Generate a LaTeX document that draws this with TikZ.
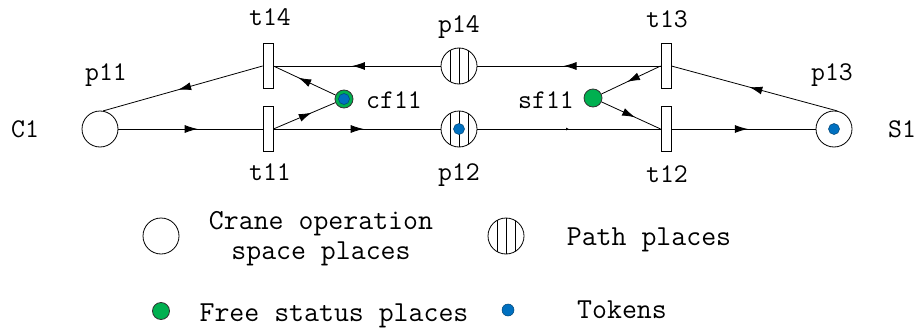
\documentclass[tikz,border=0pt]{standalone}
\usetikzlibrary{arrows.meta,decorations.markings}
\definecolor{pgreen}{RGB}{0,176,80}
\definecolor{pblue}{RGB}{0,112,192}
\begin{document}
\begin{tikzpicture}[x=1pt,y=-1pt,
  place/.style={circle,draw,fill=white,minimum size=36pt,inner sep=0pt,line width=0.8pt},
  pathplace/.style={place,path picture={
      \draw[line width=0.8pt] ([xshift=-9pt]path picture bounding box.north) -- ([xshift=-9pt]path picture bounding box.south);
      \draw[line width=0.8pt] (path picture bounding box.north) -- (path picture bounding box.south);
      \draw[line width=0.8pt] ([xshift=9pt]path picture bounding box.north) -- ([xshift=9pt]path picture bounding box.south);}},
  trans/.style={rectangle,draw,fill=white,minimum width=10pt,minimum height=45pt,inner sep=0pt,line width=0.8pt},
  freeplace/.style={circle,draw=black!80,fill=pgreen,minimum size=18pt,inner sep=0pt,line width=0.8pt},
  tokendot/.style={circle,draw=pblue!60!black,fill=pblue,minimum size=11pt,inner sep=0pt,line width=0.5pt},
  arc/.style={draw,line width=0.8pt},
  midarrow/.style={postaction={decorate},decoration={markings,
      mark=at position #1 with {\arrow{Latex[length=13pt,width=8pt]}}}},
  tinyarrow/.style={postaction={decorate},decoration={markings,
      mark=at position #1 with {\arrow{Latex[length=3pt,width=3pt]}}}},
  lbl/.style={font=\fontsize{27}{30}\selectfont\ttfamily,anchor=base,inner sep=0pt},
  legtext/.style={font=\fontsize{29}{30}\selectfont\ttfamily,inner sep=0pt}]
\useasboundingbox (0,0) rectangle (920,329);
% places and transitions
\node[place] (p11) at (100,129) {};
\node[trans] (t14) at (268,66) {};
\node[trans] (t11) at (268,129) {};
\node[freeplace] (cf11) at (344,99) {};
\node[tokendot] (cf11tok) at (344,99) {};
\node[pathplace] (p14) at (459,66) {};
\node[pathplace] (p12) at (459,129) {};
\node[tokendot] (p12tok) at (459,129) {};
\node[freeplace] (sf11) at (593,98) {};
\node[trans] (t13) at (666,66) {};
\node[trans] (t12) at (666,129) {};
\node[place] (p13) at (834,129) {};
\node[tokendot] (p13tok) at (834,129) {};
% labels
\node[lbl] (lC1) at (25,137) {C1};
\node[lbl] (lS1) at (902,137) {S1};
\node[lbl] (lp11) at (106,80) {p11};
\node[lbl] (lt14) at (270,26) {t14};
\node[lbl] (lt11) at (270,180) {t11};
\node[lbl] (lp14) at (459,33) {p14};
\node[lbl] (lp12) at (459,180) {p12};
\node[lbl] (lt13) at (667,28) {t13};
\node[lbl] (lt12) at (667,182) {t12};
\node[lbl] (lp13) at (832,80) {p13};
\node[lbl] (lcf11) at (394,108) {cf11};
\node[lbl] (lsf11) at (546,108) {sf11};
% arcs
\draw[arc,midarrow=0.55] (p11) -- (t11);
\draw[arc,midarrow=0.53] (t14.west) -- (p11.80);
\draw[arc,midarrow=0.6] (cf11) -- (t14.east);
\draw[arc,midarrow=0.62] (t11.east) -- (cf11);
\draw[arc,midarrow=0.54] (t11) -- (p12);
\draw[arc,midarrow=0.53] (p14) -- (t14);
\draw[arc,midarrow=0.53] (t13) -- (p14);
\draw[arc,midarrow=0.57] (t13.west) -- (sf11);
\draw[arc,midarrow=0.57] (sf11) -- (t12.west);
\draw[arc,tinyarrow=0.5] (p12) -- (t12);
\draw[arc,midarrow=0.53] (t12) -- (p13);
\draw[arc,midarrow=0.53] (p13.80) -- (t13.east);
% legend
\node[place] (lgc) at (161,236) {};
\node[legtext,align=center] (lgct) at (321,239) {Crane operation\\space places};
\node[pathplace] (lgp) at (506,236) {};
\node[legtext,anchor=base] (lgpt) at (649,245) {Path places};
\node[freeplace,minimum size=17pt] (lgf) at (161,311) {};
\node[legtext,anchor=base] (lgft) at (334,321) {Free status places};
\node[tokendot,minimum size=12pt] (lgt) at (508,310) {};
\node[legtext,anchor=base] (lgtt) at (622,318) {Tokens};
\end{tikzpicture}
\end{document}
